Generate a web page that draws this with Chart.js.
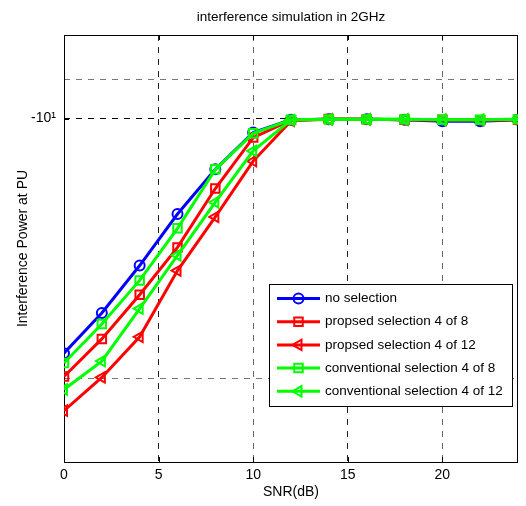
<!DOCTYPE html>
<html><head><meta charset="utf-8">
<script src="https://cdn.jsdelivr.net/npm/chart.js@4/dist/chart.umd.min.js"></script>
<style>html,body{margin:0;padding:0;background:#fff}#wrap{width:526px;height:506px}</style>
</head><body><div id="wrap"><canvas id="c" width="526" height="506"></canvas></div>
<script>
// ---- data ----
const snr = [0, 2, 4, 6, 8, 10, 12, 14, 16, 18, 20, 22, 24];
const noSelection       = [-18.7, -16.8, -14.8, -12.9, -11.45, -10.38, -10.03, -10.02, -10.02, -10.03, -10.07, -10.07, -10.03];
const proposed4of8      = [-19.9, -18.0, -16.0, -14.1, -12.05, -10.52, -10.04, -10.01, -10.02, -10.03, -10.03, -10.04, -10.03];
const proposed4of12     = [-21.8, -19.95, -17.9, -15.0, -13.0, -11.2, -10.06, -10.02, -10.02, -10.03, -10.04, -10.04, -10.03];
const conventional4of8  = [-19.2, -17.3, -15.4, -13.4, -11.45, -10.4, -10.03, -10.02, -10.02, -10.02, -10.03, -10.03, -10.02];
const conventional4of12 = [-20.6, -19.1, -16.6, -14.4, -12.5, -10.9, -10.04, -10.02, -10.02, -10.02, -10.03, -10.03, -10.02];
const seriesLabels = ['no selection', 'propsed selection 4 of 8', 'propsed selection 4 of 12', 'conventional selection 4 of 8', 'conventional selection 4 of 12'];
const chartTitle = 'interference simulation in 2GHz';
const xTicks = [0, 5, 10, 15, 20];
const yGridValues = [-9, -10, -20];
const yLabeledValue = -10;
const yRange = [-25, -8];

const FONT = '"Liberation Sans", Arial, sans-serif';
const seriesValues = [noSelection, proposed4of8, proposed4of12, conventional4of8, conventional4of12];
const styles = [
  {color: '#0000ff', point: 'circle', radius: 5, rot: 0},
  {color: '#ff0000', point: 'rect', radius: 6, rot: 0},
  {color: '#ff0000', point: 'triangle', radius: 6, rot: -90},
  {color: '#00ff00', point: 'rect', radius: 6, rot: 0},
  {color: '#00ff00', point: 'triangle', radius: 6, rot: -90}
];

// negative values on a log axis (MATLAB style): plot magnitude on a reversed log scale
const datasets = seriesValues.map((vals, i) => ({
  label: seriesLabels[i],
  data: vals.map((v, k) => ({x: snr[k], y: Math.abs(v)})),
  borderColor: styles[i].color,
  backgroundColor: 'rgba(0,0,0,0)',
  borderWidth: 3,
  pointStyle: styles[i].point,
  pointRadius: styles[i].radius,
  pointRotation: styles[i].rot,
  pointBorderWidth: 2,
  pointBorderColor: styles[i].color,
  pointBackgroundColor: 'rgba(0,0,0,0)',
  tension: 0,
  order: seriesValues.length - i
}));

const framePlugin = {
  id: 'frame',
  beforeDatasetsDraw(chart) {
    const {ctx, chartArea: a} = chart;
    ctx.save();
    ctx.strokeStyle = '#000';
    ctx.lineWidth = 1;
    ctx.strokeRect(Math.round(a.left) + 0.5, Math.round(a.top) + 0.5, Math.round(a.right - a.left) - 1, Math.round(a.bottom - a.top));
    const xs = chart.scales.x, ys = chart.scales.y;
    ctx.beginPath();
    xTicks.forEach(t => {
      const p = Math.round(xs.getPixelForValue(t)) + 0.5;
      ctx.moveTo(p, a.bottom); ctx.lineTo(p, a.bottom - 5);
      ctx.moveTo(p, a.top); ctx.lineTo(p, a.top + 5);
    });
    const py = Math.round(ys.getPixelForValue(Math.abs(yLabeledValue))) + 0.5;
    ctx.moveTo(a.left, py); ctx.lineTo(a.left + 5, py);
    ctx.moveTo(a.right, py); ctx.lineTo(a.right - 5, py);
    ctx.stroke();
    // title centred over the plot box
    ctx.fillStyle = '#000';
    ctx.font = '13.5px ' + FONT;
    ctx.textAlign = 'center';
    ctx.textBaseline = 'middle';
    ctx.fillText(chartTitle, (a.left + a.right) / 2, 17);
    ctx.restore();
  }
};

const legendPlugin = {
  id: 'innerLegend',
  afterDraw(chart) {
    const {ctx} = chart;
    const box = {x: 269, y: 284, w: 243, h: 122};
    ctx.save();
    ctx.fillStyle = '#fff';
    ctx.fillRect(box.x, box.y, box.w, box.h);
    ctx.strokeStyle = '#000';
    ctx.lineWidth = 1;
    ctx.strokeRect(box.x + 0.5, box.y + 0.5, box.w, box.h);
    ctx.font = '13.5px ' + FONT;
    ctx.textBaseline = 'middle';
    ctx.textAlign = 'left';
    chart.data.datasets.forEach((ds, i) => {
      const y = 298.5 + i * 23.2;
      ctx.strokeStyle = ds.borderColor;
      ctx.lineWidth = 3;
      ctx.beginPath();
      ctx.moveTo(277, y); ctx.lineTo(320, y);
      ctx.stroke();
      ctx.lineWidth = 2;
      ctx.fillStyle = 'rgba(0,0,0,0)';
      Chart.helpers.drawPoint(ctx, {pointStyle: ds.pointStyle, rotation: ds.pointRotation, radius: ds.pointRadius, borderWidth: 2}, 298.5, y);
      ctx.fillStyle = '#000';
      ctx.fillText(ds.label, 325, y);
    });
    ctx.restore();
  }
};

new Chart(document.getElementById('c'), {
  type: 'line',
  data: {datasets},
  plugins: [framePlugin, legendPlugin],
  options: {
    responsive: false,
    animation: false,
    layout: {padding: {top: 35, right: 7, left: 0, bottom: 0}},
    plugins: {
      legend: {display: false},
      tooltip: {enabled: false},
      title: {display: false}
    },
    scales: {
      x: {
        type: 'linear',
        min: 0, max: 24,
        afterBuildTicks: s => { s.ticks = xTicks.map(v => ({value: v})); },
        afterFit: s => { s.height = 44; },
        ticks: {color: '#000', font: {family: FONT, size: 14}, padding: 5, maxRotation: 0, autoSkip: false},
        grid: {
          drawTicks: false,
          lineWidth: 1,
          color: c => (c.tick && c.tick.value === 0) ? 'rgba(0,0,0,0)' : ((c.tick && (c.tick.value === 10 || c.tick.value === 20)) ? '#666' : '#222')
        },
        border: {display: false, dash: [6, 6]},
        title: {display: true, text: 'SNR(dB)', color: '#000', font: {family: FONT, size: 14}, padding: {top: 0, bottom: 5}}
      },
      y: {
        type: 'logarithmic',
        reverse: true,
        min: Math.abs(yRange[1]), max: Math.abs(yRange[0]),
        afterBuildTicks: s => { s.ticks = yGridValues.map(v => ({value: Math.abs(v)})); },
        afterFit: s => { s.width = 64; },
        ticks: {
          color: '#000', font: {family: FONT, size: 14}, padding: 8, autoSkip: false,
          callback: v => (v === Math.abs(yLabeledValue) ? '-10\u00B9' : '')
        },
        grid: {
          drawTicks: false,
          lineWidth: 1,
          color: c => (c.tick && c.tick.value === Math.abs(yLabeledValue)) ? '#000' : '#777'
        },
        border: {display: false, dash: [6, 6]},
        title: {display: true, text: 'Interference Power at PU', color: '#000', font: {family: FONT, size: 14}, padding: {top: 15, bottom: 0}}
      }
    }
  }
});
</script>
</body></html>
